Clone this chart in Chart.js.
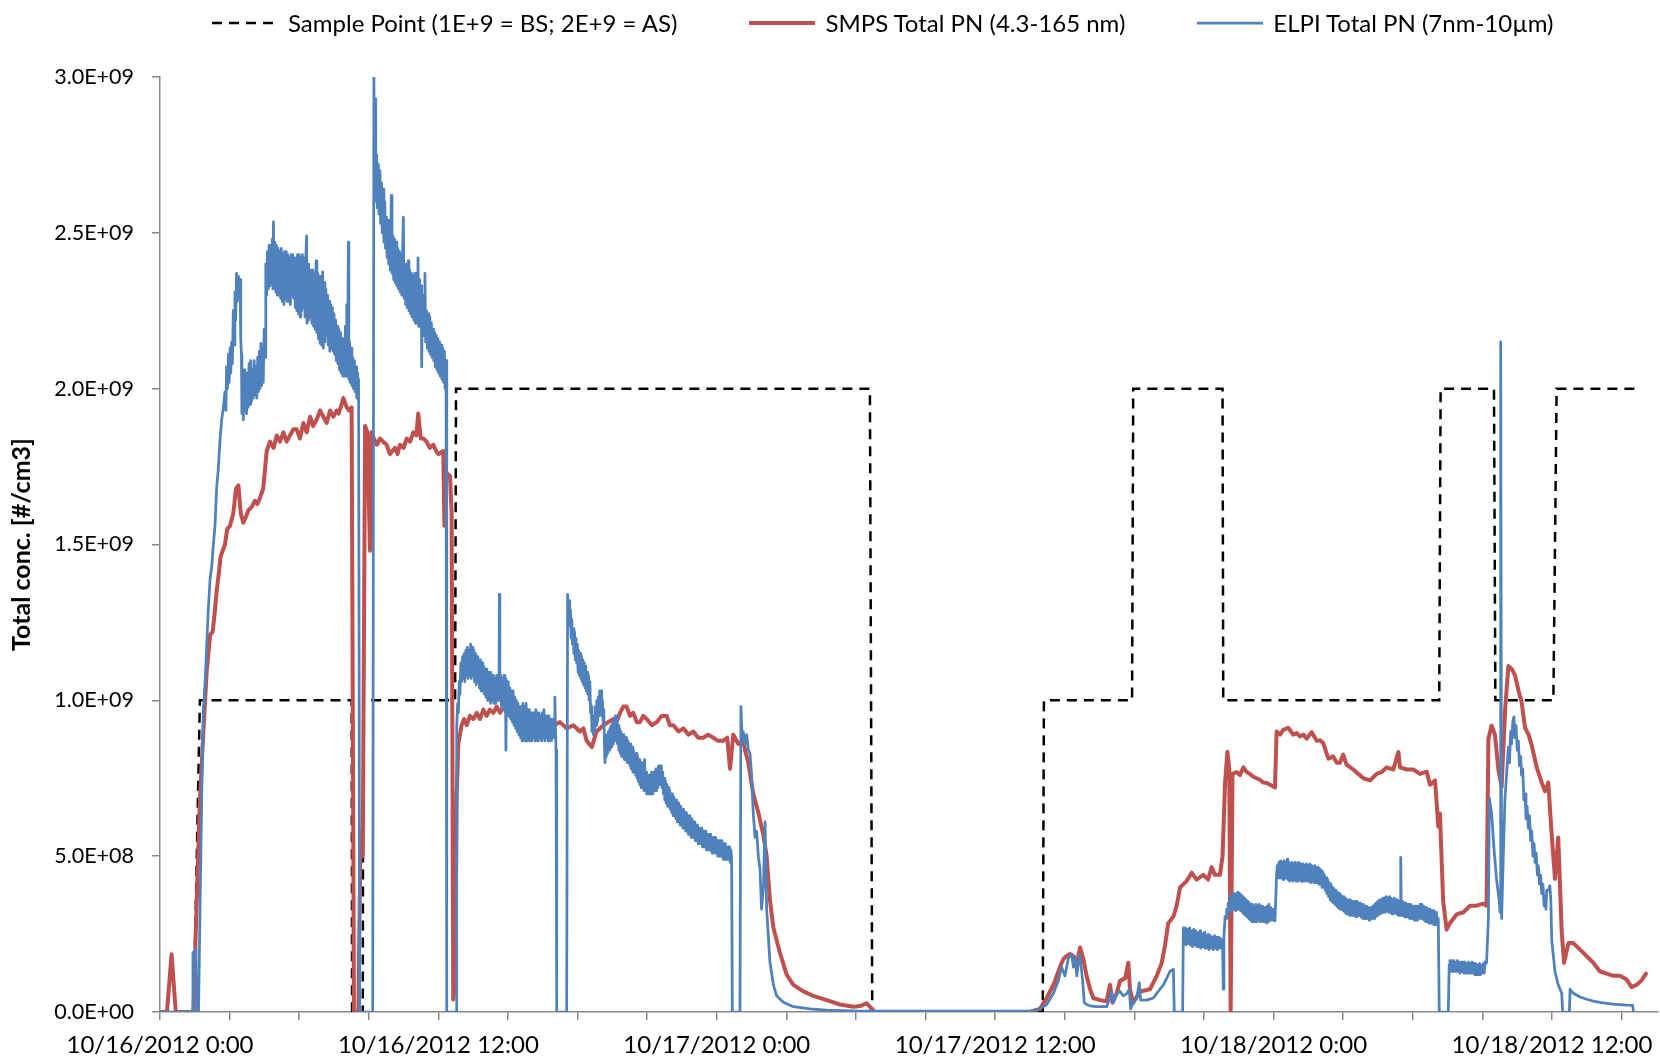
<!DOCTYPE html>
<html>
<head>
<meta charset="utf-8">
<title>Total particle number</title>
<script src="https://cdn.jsdelivr.net/npm/chart.js@4.4.0/dist/chart.umd.min.js"></script>
<style>
  html, body { margin: 0; padding: 0; background: #fff; }
  #wrap { position: relative; width: 1660px; height: 1062px; }
  #legend {
    position: absolute; top: 8px; left: 212px;
    display: flex; align-items: center;
    font-family: Lato, sans-serif; font-size: 24px; color: #000;
    white-space: nowrap;
  }
  #legend .item { display: flex; align-items: center; margin-right: 72px; }
  #legend svg { margin-right: 10px; }
</style>
</head>
<body>
<div id="wrap">
  <canvas id="pnChart" width="1660" height="1062"></canvas>
  <div id="legend"></div>
</div>
<script>
// [hours since 10/16/2012 0:00, concentration in 1E+9 #/cm3]
const UNIT = 1e9;

// sample point: 1 = BS, 2 = AS
const sampleReadings = [
  [0, 0], [1.45, 0], [1.72, 1], [8.26, 1], [8.28, 0], [8.74, 0], [8.76, 1], [12.72, 1],
  [12.76, 2], [30.6, 2], [30.7, 0], [38.05, 0], [38.1, 1], [41.9, 1], [41.95, 2], [45.8, 2],
  [45.83, 1], [55.14, 1], [55.2, 2], [57.5, 2], [57.56, 1], [60.06, 1], [60.2, 2], [63.72, 2]
];

// SMPS total PN (4.3-165 nm)
const smpsReadings = [
  [0,0],[0.3,0],[0.5,0.185],[0.68,0],[1.44,0],[1.58,0.35],[1.72,0.68],[1.87,0.90],[2.01,1.09],[2.16,1.21],
  [2.27,1.22],[2.37,1.29],[2.44,1.35],[2.54,1.41],[2.61,1.46],[2.70,1.48],[2.80,1.50],[2.90,1.55],[3.02,1.56],[3.16,1.60],
  [3.28,1.68],[3.38,1.69],[3.48,1.60],[3.59,1.57],[3.71,1.59],[3.81,1.61],[3.95,1.62],[4.09,1.64],[4.20,1.63],[4.31,1.65],
  [4.45,1.68],[4.60,1.80],[4.74,1.83],[4.90,1.81],[5.03,1.85],[5.17,1.83],[5.32,1.86],[5.46,1.83],[5.60,1.85],[5.75,1.87],
  [5.89,1.87],[6.03,1.84],[6.18,1.89],[6.32,1.86],[6.47,1.91],[6.60,1.88],[6.75,1.90],[6.90,1.93],[7.04,1.91],[7.18,1.89],
  [7.33,1.93],[7.47,1.91],[7.62,1.93],[7.70,1.92],[7.83,1.95],[7.90,1.97],[8.05,1.94],[8.15,1.93],[8.26,1.94],[8.36,0],
  [8.55,0],[8.65,0.58],[8.74,0.50],[8.84,1.88],[8.94,1.86],[9.05,1.48],[9.12,1.86],[9.22,1.84],[9.35,1.82],[9.48,1.84],
  [9.62,1.83],[9.77,1.82],[9.91,1.79],[10.02,1.80],[10.13,1.81],[10.24,1.79],[10.34,1.82],[10.50,1.81],[10.63,1.84],[10.78,1.83],
  [10.92,1.86],[11.05,1.85],[11.13,1.92],[11.24,1.84],[11.36,1.84],[11.49,1.83],[11.63,1.81],[11.78,1.82],[11.90,1.80],[12.0,1.79],
  [12.21,1.80],[12.26,1.56],[12.33,1.73],[12.5,1.72],[12.57,1.60],[12.64,0.04],[12.72,0.10],[12.79,0.70],[12.86,0.86],[13.0,0.92],
  [13.11,0.94],[13.22,0.92],[13.36,0.95],[13.51,0.94],[13.65,0.96],[13.79,0.94],[13.94,0.97],[14.08,0.95],[14.22,0.97],[14.37,0.96],
  [14.51,0.98],[14.66,0.96],[14.80,0.98],[14.94,0.96],[15.09,0.95],[15.23,0.94],[15.52,0.93],[15.80,0.93],[16.09,0.91],[16.38,0.92],
  [16.66,0.93],[16.95,0.92],[17.24,0.93],[17.53,0.91],[17.82,0.92],[18.10,0.90],[18.25,0.91],[18.39,0.87],[18.50,0.86],[18.61,0.85],
  [18.82,0.90],[19.11,0.92],[19.32,0.93],[19.54,0.94],[19.68,0.93],[19.83,0.96],[19.97,0.98],[20.11,0.98],[20.26,0.95],[20.40,0.96],
  [20.55,0.93],[20.69,0.93],[20.83,0.95],[20.98,0.94],[21.2,0.92],[21.41,0.93],[21.62,0.95],[21.84,0.95],[21.98,0.92],[22.13,0.92],
  [22.35,0.90],[22.56,0.91],[22.78,0.89],[22.99,0.90],[23.2,0.88],[23.42,0.88],[23.63,0.89],[23.85,0.88],[24.06,0.87],[24.28,0.87],
  [24.45,0.88],[24.57,0.78],[24.71,0.89],[24.93,0.86],[25.14,0.87],[25.25,0.83],[25.36,0.80],[25.57,0.70],[25.79,0.64],[26.0,0.57],
  [26.15,0.50],[26.29,0.36],[26.44,0.27],[26.72,0.19],[27.01,0.12],[27.30,0.087],[27.73,0.066],[28.16,0.052],[28.74,0.038],[29.31,0.024],
  [29.89,0.017],[30.17,0.019],[30.46,0.028],[30.68,0.01],[30.82,0],[37.5,0],[37.93,0.01],[38.22,0.045],[38.51,0.087],[38.79,0.144],
  [38.94,0.17],[39.08,0.18],[39.22,0.186],[39.37,0.18],[39.52,0.158],[39.66,0.207],[39.80,0.17],[39.94,0.116],[40.09,0.073],[40.23,0.045],
  [40.52,0.038],[40.80,0.034],[40.95,0.087],[41.06,0.03],[41.24,0.06],[41.38,0.10],[41.60,0.108],[41.74,0.158],[41.81,0.073],[41.95,0.03],
  [42.24,0.066],[42.67,0.073],[42.96,0.115],[43.18,0.158],[43.32,0.214],[43.46,0.285],[43.68,0.306],[43.82,0.34],[43.97,0.40],[44.25,0.42],
  [44.47,0.447],[44.68,0.425],[44.97,0.44],[45.18,0.425],[45.33,0.465],[45.47,0.44],[45.69,0.44],[45.80,0.50],[45.91,0.736],[46.01,0.835],
  [46.09,0.778],[46.15,0],[46.23,0.764],[46.41,0.77],[46.55,0.76],[46.70,0.785],[46.84,0.77],[46.98,0.764],[47.13,0.755],[47.27,0.75],
  [47.41,0.745],[47.56,0.736],[47.70,0.735],[47.85,0.729],[48.06,0.72],[48.13,0.90],[48.28,0.89],[48.42,0.905],[48.63,0.912],[48.85,0.89],
  [49.0,0.895],[49.14,0.884],[49.28,0.89],[49.43,0.877],[49.64,0.898],[49.86,0.87],[50.0,0.872],[50.14,0.863],[50.36,0.813],[50.57,0.82],
  [50.72,0.80],[50.86,0.80],[51.0,0.826],[51.15,0.793],[51.22,0.79],[51.44,0.778],[51.65,0.764],[51.87,0.75],[52.16,0.743],[52.44,0.764],
  [52.66,0.77],[52.87,0.785],[53.16,0.778],[53.38,0.834],[53.45,0.785],[53.74,0.778],[54.02,0.778],[54.31,0.764],[54.6,0.771],[54.74,0.729],
  [54.96,0.743],[55.1,0.595],[55.17,0.637],[55.31,0.355],[55.46,0.264],[55.6,0.285],[55.89,0.313],[56.18,0.32],[56.47,0.341],[56.75,0.341],
  [57.04,0.348],[57.18,0.341],[57.26,0.877],[57.4,0.919],[57.54,0.89],[57.69,0.778],[57.83,0.722],[57.98,0.97],[58.12,1.11],[58.27,1.10],
  [58.41,1.08],[58.56,1.03],[58.69,0.995],[58.84,0.912],[58.99,0.89],[59.13,0.855],[59.34,0.785],[59.56,0.736],[59.7,0.708],[59.84,0.736],
  [59.99,0.567],[60.13,0.427],[60.27,0.56],[60.42,0.257],[60.52,0.158],[60.71,0.221],[60.92,0.221],[61.21,0.20],[61.5,0.179],[61.78,0.158],
  [62.07,0.13],[62.36,0.123],[62.64,0.116],[62.93,0.116],[63.22,0.104],[63.43,0.08],[63.65,0.087],[63.86,0.101],[64.05,0.123]
];

// ELPI total PN (7nm-10µm); noisy stretches are read as alternating upper/lower edge of the trace
const elpiReadings = [
  [0,0],[1.40,0],[1.42,0.19],[1.55,0.20],[1.58,0],[1.66,0],[1.80,0.70],[1.87,0.97],[1.94,1.05],[2.01,1.17],
  [2.08,1.29],[2.16,1.39],[2.23,1.43],[2.30,1.50],[2.37,1.56],[2.44,1.68],[2.51,1.74],[2.59,1.84],[2.66,1.90],[2.73,1.94],
  [2.80,1.99],[2.84,1.93],[2.87,2.07],[2.91,2.0],[2.95,2.11],[2.98,2.02],[3.02,2.13],[3.05,2.05],[3.09,2.15],[3.12,2.08],
  [3.16,2.25],[3.19,2.14],[3.23,2.31],[3.26,2.22],[3.30,2.37],[3.33,2.28],[3.38,2.36],[3.42,2.31],[3.45,2.35],[3.48,2.16],
  [3.51,2.11],[3.53,1.92],[3.56,2.05],[3.59,1.90],[3.63,2.06],[3.66,1.93],[3.70,2.02],[3.73,1.92],[3.77,2.05],[3.80,1.94],
  [3.84,2.08],[3.88,1.95],[3.91,2.09],[3.95,1.96],[3.98,2.06],[4.02,1.97],[4.06,2.09],[4.10,1.98],[4.13,2.07],[4.17,1.97],
  [4.21,2.10],[4.24,1.99],[4.28,2.12],[4.31,2.0],[4.35,2.145],[4.38,2.01],[4.42,2.13],[4.45,2.02],[4.49,2.19],[4.53,2.10],
  [4.56,2.40],[4.60,2.30],[4.63,2.44],[4.67,2.32],[4.70,2.46],[4.74,2.33],[4.77,2.45],[4.81,2.34],[4.84,2.48],[4.87,2.32],
  [4.89,2.535],[4.92,2.33],[4.95,2.47],[4.99,2.31],[5.02,2.46],[5.06,2.30],[5.09,2.45],[5.13,2.30],[5.16,2.44],[5.20,2.29],
  [5.23,2.45],[5.27,2.28],[5.30,2.43],[5.34,2.27],[5.37,2.44],[5.41,2.29],[5.44,2.44],[5.48,2.28],[5.51,2.43],[5.55,2.28],
  [5.58,2.42],[5.62,2.27],[5.65,2.43],[5.69,2.30],[5.72,2.43],[5.76,2.29],[5.79,2.42],[5.83,2.26],[5.86,2.42],[5.90,2.25],
  [5.93,2.43],[5.97,2.24],[6.00,2.43],[6.04,2.23],[6.07,2.42],[6.11,2.25],[6.14,2.43],[6.18,2.26],[6.21,2.42],[6.25,2.23],
  [6.28,2.41],[6.32,2.49],[6.34,2.21],[6.38,2.40],[6.41,2.22],[6.45,2.38],[6.48,2.23],[6.52,2.38],[6.55,2.21],[6.59,2.38],
  [6.62,2.20],[6.66,2.37],[6.69,2.19],[6.73,2.41],[6.76,2.18],[6.80,2.37],[6.83,2.16],[6.87,2.36],[6.90,2.145],[6.94,2.36],
  [6.97,2.14],[7.01,2.375],[7.04,2.13],[7.08,2.34],[7.11,2.15],[7.15,2.32],[7.18,2.17],[7.22,2.30],[7.25,2.14],[7.29,2.28],
  [7.32,2.12],[7.36,2.27],[7.39,2.13],[7.43,2.26],[7.46,2.12],[7.50,2.24],[7.53,2.11],[7.57,2.22],[7.60,2.09],[7.64,2.20],
  [7.67,2.08],[7.71,2.19],[7.74,2.06],[7.78,2.18],[7.81,2.05],[7.85,2.16],[7.88,2.04],[7.92,2.16],[7.95,2.04],[7.99,2.20],
  [8.02,2.04],[8.05,2.27],[8.08,2.05],[8.12,2.47],[8.14,2.03],[8.17,2.15],[8.20,2.02],[8.24,2.13],[8.27,2.01],[8.31,2.10],
  [8.34,2.0],[8.38,2.09],[8.41,1.99],[8.45,2.07],[8.48,1.97],[8.52,2.05],[8.55,1.97],[8.56,2.03],[8.61,0],[9.17,0],
  [9.22,3.0],[9.25,2.60],[9.27,2.93],[9.30,2.62],[9.34,2.75],[9.37,2.58],[9.41,2.72],[9.44,2.56],[9.48,2.70],[9.51,2.53],
  [9.55,2.66],[9.58,2.50],[9.62,2.64],[9.65,2.47],[9.69,2.60],[9.72,2.45],[9.76,2.55],[9.79,2.42],[9.83,2.54],[9.86,2.40],
  [9.90,2.52],[9.93,2.38],[9.97,2.62],[10.0,2.37],[10.04,2.49],[10.07,2.35],[10.11,2.48],[10.14,2.34],[10.18,2.47],[10.21,2.33],
  [10.25,2.45],[10.28,2.32],[10.32,2.44],[10.35,2.31],[10.39,2.43],[10.42,2.30],[10.46,2.45],[10.49,2.55],[10.52,2.29],[10.56,2.39],
  [10.59,2.27],[10.63,2.40],[10.66,2.26],[10.70,2.41],[10.73,2.25],[10.77,2.38],[10.80,2.24],[10.84,2.37],[10.87,2.23],[10.91,2.36],
  [10.94,2.22],[10.98,2.37],[11.01,2.21],[11.05,2.37],[11.08,2.21],[11.12,2.42],[11.15,2.20],[11.19,2.35],[11.22,2.20],[11.26,2.33],
  [11.28,2.07],[11.31,2.30],[11.35,2.17],[11.38,2.30],[11.42,2.37],[11.45,2.15],[11.49,2.25],[11.52,2.13],[11.56,2.24],[11.59,2.12],
  [11.63,2.23],[11.66,2.11],[11.70,2.21],[11.73,2.10],[11.77,2.19],[11.80,2.09],[11.84,2.18],[11.87,2.07],[11.91,2.17],[11.94,2.06],
  [11.98,2.16],[12.01,2.05],[12.05,2.15],[12.08,2.04],[12.12,2.14],[12.15,2.03],[12.19,2.13],[12.22,2.02],[12.26,2.12],[12.29,2.0],
  [12.33,2.09],[12.35,1.97],[12.37,0],[12.76,0],
  [12.79,0.915],[12.83,0.99],[12.86,0.96],[12.90,1.06],[12.93,1.02],[12.97,1.12],[13.0,1.06],[13.04,1.14],[13.07,1.07],[13.11,1.15],
  [13.14,1.06],[13.18,1.16],[13.21,1.08],[13.25,1.17],[13.28,1.07],[13.32,1.16],[13.35,1.08],[13.39,1.18],[13.42,1.07],[13.46,1.17],
  [13.49,1.08],[13.53,1.16],[13.56,1.06],[13.60,1.15],[13.63,1.05],[13.67,1.14],[13.70,1.06],[13.74,1.13],[13.77,1.04],[13.81,1.13],
  [13.84,1.03],[13.88,1.12],[13.91,1.03],[13.95,1.11],[13.98,1.02],[14.02,1.10],[14.05,1.01],[14.09,1.10],[14.12,1.0],[14.16,1.09],
  [14.19,1.0],[14.23,1.09],[14.26,0.99],[14.30,1.08],[14.33,1.0],[14.37,1.08],[14.40,0.99],[14.44,1.07],[14.47,0.99],[14.51,1.08],
  [14.54,1.0],[14.58,1.07],[14.61,1.0],[14.63,1.34],[14.65,1.0],[14.69,1.08],[14.72,0.98],[14.76,1.07],[14.79,0.97],[14.83,1.08],
  [14.86,0.98],[14.89,1.07],[14.91,0.84],[14.94,1.06],[14.98,0.96],[15.01,1.06],[15.05,0.95],[15.08,1.04],[15.12,0.94],[15.15,1.03],
  [15.19,0.93],[15.22,1.03],[15.26,0.92],[15.29,1.01],[15.33,0.91],[15.36,1.0],[15.40,0.90],[15.43,0.99],[15.47,0.89],[15.50,0.98],
  [15.54,0.88],[15.57,0.98],[15.61,0.87],[15.64,0.99],[15.68,0.88],[15.71,0.98],[15.75,0.87],[15.78,0.99],[15.82,0.87],[15.85,0.97],
  [15.89,0.88],[15.92,0.97],[15.96,0.87],[15.99,0.96],[16.03,0.87],[16.06,0.96],[16.10,0.88],[16.13,0.96],[16.17,0.87],[16.20,0.97],
  [16.24,0.88],[16.27,0.96],[16.31,0.87],[16.34,0.96],[16.38,0.88],[16.41,0.95],[16.45,0.87],[16.48,0.96],[16.52,0.88],[16.55,0.97],
  [16.59,0.87],[16.62,0.95],[16.66,0.88],[16.69,0.95],[16.73,0.87],[16.76,0.95],[16.80,0.88],[16.83,0.94],[16.87,0.87],[16.90,0.94],
  [16.94,0.88],[16.97,0.94],[17.0,0.88],[17.02,1.01],[17.05,0.90],[17.07,0.84],[17.10,0],[17.53,0],
  [17.57,1.34],[17.60,1.27],[17.63,1.32],[17.66,1.24],[17.69,1.29],[17.72,1.20],[17.75,1.26],[17.78,1.18],[17.81,1.23],[17.84,1.15],
  [17.87,1.22],[17.90,1.13],[17.93,1.20],[17.96,1.12],[17.99,1.18],[18.02,1.09],[18.05,1.16],[18.08,1.08],[18.11,1.15],[18.14,1.07],
  [18.17,1.14],[18.20,1.06],[18.23,1.13],[18.26,1.05],[18.29,1.12],[18.32,1.04],[18.35,1.11],[18.38,1.03],[18.41,1.09],[18.44,1.02],
  [18.47,1.08],[18.50,1.0],[18.53,1.06],[18.56,0.96],[18.59,0.98],[18.62,0.90],[18.65,0.95],[18.68,0.89],[18.71,0.95],[18.74,0.90],
  [18.77,0.98],[18.80,0.92],[18.83,1.0],[18.86,0.93],[18.89,1.01],[18.92,0.95],[18.95,1.03],[18.98,0.96],[19.01,1.03],[19.04,0.95],
  [19.07,1.0],[19.10,0.93],[19.13,0.97],[19.16,0.85],[19.18,0.80],[19.21,0.86],[19.24,0.82],[19.27,0.89],[19.30,0.83],[19.33,0.90],
  [19.36,0.84],[19.39,0.91],[19.42,0.85],[19.45,0.92],[19.48,0.85],[19.51,0.93],[19.54,0.86],[19.57,0.94],[19.60,0.87],[19.63,0.95],
  [19.66,0.88],[19.69,0.95],[19.72,0.86],[19.75,0.92],[19.78,0.84],[19.81,0.91],[19.84,0.83],[19.87,0.90],[19.90,0.82],[19.93,0.89],
  [19.96,0.82],[19.99,0.89],[20.02,0.81],[20.05,0.88],[20.08,0.81],[20.11,0.88],[20.14,0.80],[20.17,0.87],[20.20,0.80],[20.23,0.86],
  [20.26,0.79],[20.29,0.86],[20.32,0.78],[20.35,0.85],[20.38,0.77],[20.41,0.84],[20.44,0.77],[20.47,0.83],[20.50,0.76],[20.53,0.83],
  [20.56,0.75],[20.59,0.82],[20.62,0.74],[20.65,0.81],[20.68,0.73],[20.71,0.80],[20.74,0.72],[20.77,0.80],[20.80,0.72],[20.83,0.79],
  [20.86,0.71],[20.89,0.81],[20.92,0.71],[20.95,0.77],[20.98,0.70],[21.01,0.76],[21.04,0.70],[21.07,0.76],[21.10,0.70],[21.13,0.76],
  [21.16,0.70],[21.19,0.77],[21.22,0.70],[21.25,0.77],[21.28,0.71],[21.31,0.77],[21.34,0.71],[21.37,0.78],[21.40,0.71],[21.43,0.78],
  [21.46,0.72],[21.49,0.79],[21.52,0.73],[21.55,0.79],[21.58,0.73],[21.61,0.79],[21.64,0.72],[21.67,0.77],[21.70,0.70],[21.73,0.75],
  [21.76,0.68],[21.79,0.74],[21.82,0.67],[21.85,0.73],[21.88,0.66],[21.91,0.72],[21.94,0.66],[21.97,0.71],[22.00,0.65],[22.03,0.70],
  [22.06,0.64],[22.09,0.70],[22.12,0.63],[22.15,0.69],[22.18,0.63],[22.21,0.68],[22.24,0.62],[22.27,0.68],[22.30,0.61],[22.33,0.67],
  [22.36,0.61],[22.39,0.66],[22.42,0.60],[22.45,0.66],[22.48,0.60],[22.51,0.65],[22.54,0.59],[22.57,0.65],[22.60,0.59],[22.63,0.64],
  [22.66,0.58],[22.69,0.64],[22.72,0.58],[22.75,0.63],[22.78,0.57],[22.81,0.63],[22.84,0.57],[22.87,0.62],[22.90,0.56],[22.93,0.62],
  [22.96,0.56],[22.99,0.61],[23.02,0.56],[23.05,0.61],[23.08,0.55],[23.11,0.60],[23.14,0.55],[23.17,0.60],[23.20,0.54],[23.23,0.59],
  [23.26,0.54],[23.29,0.59],[23.32,0.54],[23.35,0.59],[23.38,0.53],[23.41,0.58],[23.44,0.53],[23.47,0.58],[23.50,0.53],[23.53,0.58],
  [23.56,0.52],[23.59,0.57],[23.62,0.52],[23.65,0.57],[23.68,0.52],[23.71,0.57],[23.74,0.52],[23.77,0.56],[23.80,0.51],[23.83,0.56],
  [23.86,0.51],[23.89,0.56],[23.92,0.51],[23.95,0.56],[23.98,0.51],[24.01,0.55],[24.04,0.50],[24.07,0.55],[24.10,0.50],[24.13,0.55],
  [24.16,0.50],[24.19,0.55],[24.22,0.50],[24.25,0.54],[24.28,0.49],[24.31,0.54],[24.34,0.49],[24.37,0.54],[24.40,0.49],[24.43,0.53],
  [24.46,0.49],[24.49,0.53],[24.52,0.49],[24.55,0.53],[24.58,0.48],[24.61,0.52],[24.64,0.49],[24.67,0],[25.0,0],
  [25.04,0.98],[25.09,0.88],[25.14,0.90],[25.21,0.86],[25.29,0.89],[25.36,0.84],[25.43,0.83],[25.50,0.76],[25.57,0.64],[25.65,0.56],
  [25.72,0.58],[25.79,0.50],[25.86,0.46],[25.93,0.33],[26.01,0.40],[26.08,0.61],[26.15,0.33],[26.29,0.16],[26.44,0.087],[26.58,0.052],
  [26.87,0.031],[27.30,0.017],[28.02,0.01],[28.74,0.006],[30.17,0.003],[31.61,0.003],[37.5,0.003],[37.79,0.008],[37.93,0.01],[38.22,0.024],
  [38.51,0.06],[38.72,0.10],[38.86,0.144],[39.01,0.116],[39.15,0.172],[39.30,0.186],[39.37,0.144],[39.44,0.172],[39.52,0.116],[39.63,0.186],
  [39.69,0.158],[39.77,0.10],[39.84,0.03],[39.94,0.024],[40.09,0.02],[40.37,0.017],[40.80,0.017],[40.95,0.045],[41.02,0.066],[41.09,0.03],
  [41.24,0.059],[41.38,0.066],[41.52,0.052],[41.67,0.059],[41.78,0.073],[41.84,0.01],[41.95,0.031],[42.10,0.045],[42.21,0.094],[42.27,0.038],
  [42.53,0.038],[42.82,0.045],[42.96,0.059],[43.10,0.073],[43.25,0.087],[43.39,0.108],[43.53,0.13],[43.68,0.137],[43.72,0],[44.08,0],
  [44.11,0.27],[44.14,0.22],[44.20,0.27],[44.23,0.215],[44.29,0.265],[44.32,0.22],[44.38,0.27],[44.41,0.215],[44.47,0.26],[44.50,0.21],
  [44.56,0.265],[44.59,0.215],[44.65,0.26],[44.68,0.21],[44.74,0.255],[44.77,0.21],[44.83,0.26],[44.86,0.205],[44.92,0.25],[44.95,0.21],
  [45.01,0.255],[45.04,0.205],[45.10,0.245],[45.13,0.205],[45.19,0.25],[45.22,0.20],[45.28,0.245],[45.31,0.205],[45.37,0.24],[45.40,0.20],
  [45.46,0.245],[45.49,0.205],[45.55,0.24],[45.58,0.20],[45.64,0.24],[45.67,0.205],[45.73,0.235],[45.76,0.205],[45.80,0.23],[45.83,0.073],
  [45.86,0.243],[45.91,0.306],[45.95,0.30],[45.98,0.33],[46.02,0.31],[46.05,0.35],[46.09,0.32],[46.12,0.37],[46.16,0.33],[46.19,0.375],
  [46.23,0.33],[46.26,0.38],[46.30,0.33],[46.33,0.38],[46.37,0.325],[46.40,0.38],[46.44,0.33],[46.47,0.385],[46.51,0.33],[46.54,0.38],
  [46.58,0.325],[46.61,0.375],[46.65,0.32],[46.68,0.37],[46.72,0.315],[46.75,0.365],[46.79,0.31],[46.82,0.36],[46.86,0.305],[46.89,0.355],
  [46.93,0.30],[46.96,0.35],[47.00,0.295],[47.03,0.345],[47.07,0.29],[47.10,0.345],[47.14,0.29],[47.17,0.34],[47.21,0.29],[47.24,0.345],
  [47.28,0.29],[47.31,0.34],[47.35,0.295],[47.38,0.345],[47.42,0.29],[47.45,0.34],[47.49,0.295],[47.52,0.34],[47.56,0.29],[47.59,0.335],
  [47.63,0.29],[47.66,0.335],[47.70,0.285],[47.73,0.34],[47.77,0.29],[47.80,0.345],[47.84,0.30],[47.87,0.335],[47.91,0.295],[47.94,0.33],
  [47.98,0.295],[48.01,0.33],[48.06,0.292],
  [48.13,0.44],[48.16,0.47],[48.20,0.43],[48.23,0.48],[48.27,0.43],[48.30,0.485],[48.34,0.43],[48.37,0.48],[48.41,0.425],[48.44,0.485],
  [48.48,0.43],[48.51,0.48],[48.55,0.43],[48.58,0.49],[48.62,0.425],[48.65,0.48],[48.69,0.42],[48.72,0.475],[48.76,0.425],[48.79,0.48],
  [48.83,0.42],[48.86,0.475],[48.90,0.425],[48.93,0.48],[48.97,0.42],[49.00,0.475],[49.04,0.42],[49.07,0.48],[49.11,0.425],[49.14,0.475],
  [49.18,0.42],[49.21,0.47],[49.25,0.42],[49.28,0.475],[49.32,0.42],[49.35,0.47],[49.39,0.425],[49.42,0.475],[49.46,0.42],[49.49,0.47],
  [49.53,0.42],[49.56,0.475],[49.60,0.415],[49.63,0.47],[49.67,0.42],[49.70,0.465],[49.74,0.415],[49.77,0.47],[49.81,0.415],[49.84,0.465],
  [49.88,0.415],[49.91,0.465],[49.95,0.41],[49.98,0.46],[50.02,0.41],[50.05,0.455],[50.09,0.40],[50.12,0.45],[50.16,0.40],[50.19,0.44],
  [50.23,0.39],[50.26,0.43],[50.30,0.38],[50.33,0.425],[50.37,0.37],[50.40,0.415],[50.44,0.36],[50.47,0.41],[50.51,0.355],[50.54,0.40],
  [50.58,0.35],[50.61,0.395],[50.65,0.345],[50.68,0.39],[50.72,0.34],[50.75,0.385],[50.79,0.335],[50.82,0.38],[50.86,0.33],[50.89,0.375],
  [50.93,0.33],[50.96,0.37],[51.00,0.325],[51.03,0.37],[51.07,0.32],[51.10,0.365],[51.14,0.315],[51.17,0.36],[51.21,0.315],[51.24,0.36],
  [51.28,0.31],[51.31,0.36],[51.35,0.31],[51.38,0.355],[51.42,0.31],[51.45,0.355],[51.49,0.31],[51.52,0.355],[51.56,0.305],[51.59,0.355],
  [51.63,0.31],[51.66,0.35],[51.70,0.31],[51.73,0.35],[51.77,0.305],[51.80,0.345],[51.84,0.30],[51.87,0.345],[51.91,0.30],[51.94,0.34],
  [51.98,0.30],[52.01,0.34],[52.05,0.30],[52.08,0.335],[52.12,0.295],[52.15,0.335],[52.19,0.30],[52.22,0.335],[52.26,0.30],[52.29,0.34],
  [52.33,0.30],[52.36,0.345],[52.40,0.305],[52.43,0.35],[52.47,0.31],[52.50,0.355],[52.54,0.315],[52.57,0.36],[52.61,0.315],[52.64,0.36],
  [52.68,0.32],[52.71,0.365],[52.75,0.32],[52.78,0.365],[52.82,0.32],[52.85,0.37],[52.89,0.325],[52.92,0.365],[52.96,0.32],[52.99,0.37],
  [53.03,0.32],[53.06,0.365],[53.10,0.315],[53.13,0.36],[53.17,0.315],[53.20,0.365],[53.24,0.32],[53.27,0.36],[53.31,0.315],[53.34,0.36],
  [53.38,0.31],[53.41,0.355],[53.45,0.31],[53.48,0.496],[53.51,0.31],[53.55,0.355],[53.58,0.31],[53.62,0.35],[53.65,0.305],[53.69,0.35],
  [53.72,0.305],[53.76,0.345],[53.79,0.305],[53.83,0.345],[53.86,0.30],[53.90,0.345],[53.93,0.30],[53.97,0.34],[54.00,0.30],[54.04,0.34],
  [54.07,0.295],[54.11,0.34],[54.14,0.295],[54.18,0.34],[54.21,0.295],[54.25,0.34],[54.28,0.30],[54.32,0.345],[54.35,0.30],[54.39,0.345],
  [54.42,0.30],[54.46,0.34],[54.49,0.295],[54.53,0.335],[54.56,0.29],[54.60,0.335],[54.63,0.29],[54.67,0.33],[54.70,0.285],[54.74,0.33],
  [54.77,0.285],[54.81,0.325],[54.84,0.285],[54.88,0.325],[54.91,0.28],[54.95,0.32],[54.98,0.28],[55.02,0.32],[55.05,0.28],[55.10,0.30],
  [55.14,0],[55.53,0],
  [55.57,0.151],[55.60,0.165],[55.64,0.13],[55.68,0.165],[55.72,0.13],[55.76,0.165],[55.80,0.13],[55.84,0.16],[55.88,0.13],[55.92,0.165],
  [55.96,0.13],[56.00,0.16],[56.04,0.125],[56.08,0.16],[56.12,0.13],[56.16,0.16],[56.20,0.125],[56.24,0.16],[56.28,0.125],[56.32,0.155],
  [56.36,0.125],[56.40,0.16],[56.44,0.125],[56.48,0.155],[56.52,0.125],[56.56,0.16],[56.60,0.125],[56.64,0.155],[56.68,0.12],[56.72,0.155],
  [56.76,0.12],[56.80,0.15],[56.84,0.12],[56.88,0.155],[56.92,0.12],[56.96,0.15],[57.00,0.125],[57.04,0.155],[57.08,0.125],[57.12,0.16],
  [57.18,0.158],[57.26,0.30],[57.30,0.686],[57.40,0.637],[57.50,0.524],[57.61,0.426],[57.73,0.355],[57.76,0.32],[57.79,2.15],[57.83,0.30],
  [57.90,0.496],[57.97,0.68],[58.12,0.85],[58.17,0.80],[58.22,0.90],[58.26,0.86],[58.31,0.93],[58.36,0.947],[58.40,0.88],[58.45,0.92],
  [58.50,0.84],[58.55,0.87],[58.60,0.79],[58.65,0.82],[58.69,0.76],[58.74,0.78],[58.79,0.68],[58.84,0.70],[58.88,0.62],[58.93,0.66],
  [58.98,0.59],[59.03,0.63],[59.08,0.55],[59.13,0.58],[59.18,0.50],[59.23,0.54],[59.27,0.48],[59.32,0.51],[59.37,0.44],[59.41,0.47],
  [59.46,0.41],[59.51,0.44],[59.56,0.38],[59.61,0.41],[59.66,0.34],[59.70,0.37],[59.74,0.33],[59.77,0.39],[59.84,0.39],[59.91,0.405],
  [59.95,0.36],[59.99,0.23],[60.13,0.13],[60.27,0.087],[60.42,0.06],[60.46,0],[60.75,0],[60.78,0.073],[60.92,0.06],[61.21,0.048],
  [61.50,0.041],[61.78,0.035],[62.07,0.031],[62.36,0.028],[62.64,0.025],[62.93,0.024],[63.22,0.022],[63.48,0.021],[63.51,0]
];

const AXIS_GREY = '#898989';
const FONT = 'Lato, "Open Sans", sans-serif';

function toPoints(readings) {
  return readings.map(([h, v]) => ({ x: h, y: v * UNIT }));
}

// 3.0E+09 style labels
function sciLabel(value) {
  if (value === 0) return '0.0E+00';
  const exp = Math.floor(Math.log10(value) + 1e-9);
  const mant = value / Math.pow(10, exp);
  return mant.toFixed(1) + 'E+' + String(exp).padStart(2, '0');
}

// only every 12 h gets a date label, the 3 h ticks stay bare
function timeLabel(value) {
  if (value % 12 !== 0) return '';
  const day = 16 + Math.floor(value / 24);
  return '10/' + day + '/2012 ' + (value % 24) + ':00';
}

const ctx = document.getElementById('pnChart').getContext('2d');
const pnChart = new Chart(ctx, {
  type: 'line',
  data: {
    datasets: [
      {
        label: 'Sample Point (1E+9 = BS; 2E+9 = AS)',
        data: toPoints(sampleReadings),
        borderColor: '#000000',
        borderWidth: 2.5,
        borderDash: [10, 7],
        borderCapStyle: 'butt',
        borderJoinStyle: 'miter',
        order: 3
      },
      {
        label: 'SMPS Total PN (4.3-165 nm)',
        data: toPoints(smpsReadings),
        borderColor: '#C0504D',
        borderWidth: 4,
        order: 2
      },
      {
        label: 'ELPI Total PN (7nm-10µm)',
        data: toPoints(elpiReadings),
        borderColor: '#4F81BD',
        borderWidth: 2.75,
        order: 1
      }
    ]
  },
  options: {
    responsive: false,
    animation: false,
    elements: {
      point: { radius: 0 },
      line: { tension: 0, borderJoinStyle: 'round', borderCapStyle: 'round' }
    },
    layout: { padding: { top: 77, right: 2, bottom: 0, left: 0 } },
    plugins: {
      legend: { display: false },
      tooltip: { enabled: false }
    },
    scales: {
      x: {
        type: 'linear',
        min: 0,
        max: 64.57,
        afterFit: (scale) => { scale.height = 50; },
        border: { color: AXIS_GREY, width: 1.5 },
        grid: { drawOnChartArea: false, drawTicks: true, tickLength: 8, color: AXIS_GREY, lineWidth: 1.5 },
        ticks: {
          stepSize: 3,
          autoSkip: false,
          includeBounds: false,
          maxRotation: 0,
          padding: 11,
          color: '#000',
          font: { family: FONT, size: 24 },
          callback: timeLabel
        }
      },
      y: {
        min: 0,
        max: 3e9,
        afterFit: (scale) => { scale.width = 160; },
        border: { color: AXIS_GREY, width: 1.5 },
        grid: { drawOnChartArea: false, drawTicks: true, tickLength: 8, color: AXIS_GREY, lineWidth: 1.5 },
        ticks: {
          stepSize: 5e8,
          padding: 18,
          color: '#000',
          font: { family: FONT, size: 21.5 },
          callback: sciLabel
        },
        title: {
          display: true,
          text: 'Total conc. [#/cm3]',
          color: '#000',
          font: { family: FONT, size: 25, weight: 'bold' },
          padding: { top: 7, bottom: 0 }
        }
      }
    }
  }
});

// legend built from the datasets
function buildLegend(chart) {
  const box = document.getElementById('legend');
  chart.data.datasets.forEach(ds => {
    const item = document.createElement('div');
    item.className = 'item';
    const dash = ds.borderDash ? ' stroke-dasharray="' + ds.borderDash.join(' ') + '"' : '';
    item.innerHTML =
      '<svg width="66" height="10"><line x1="0" y1="5" x2="66" y2="5" stroke="' + ds.borderColor +
      '" stroke-width="' + ds.borderWidth + '"' + dash + '/></svg><span>' + ds.label + '</span>';
    box.appendChild(item);
  });
}
buildLegend(pnChart);
</script>
</body>
</html>
